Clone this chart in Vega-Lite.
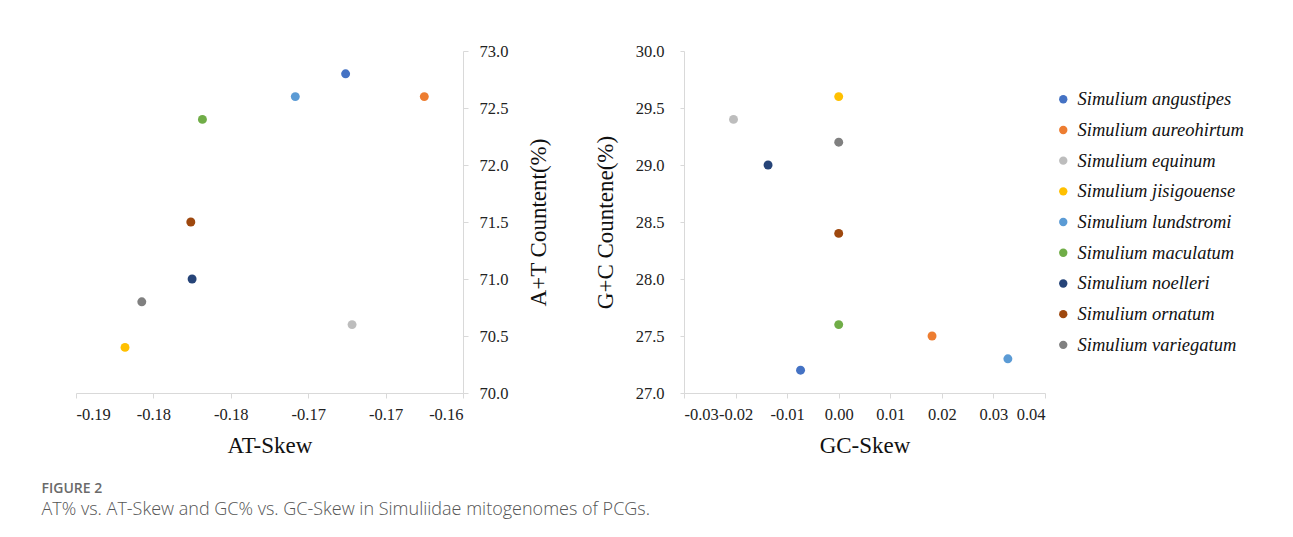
{
  "$schema": "https://vega.github.io/schema/vega-lite/v6.json",
  "background": "white",
  "padding": {"left": 41, "top": 43, "right": 10, "bottom": 10},
  "data": {"values": [
    {"species": "Simulium angustipes", "at_skew": -0.1691, "at": 72.8, "gc_skew": -0.0074, "gc": 27.2},
    {"species": "Simulium aureohirtum", "at_skew": -0.1630, "at": 72.6, "gc_skew": 0.0181, "gc": 27.5},
    {"species": "Simulium equinum", "at_skew": -0.1686, "at": 70.6, "gc_skew": -0.0204, "gc": 29.4},
    {"species": "Simulium jisigouense", "at_skew": -0.1862, "at": 70.4, "gc_skew": 0.0000, "gc": 29.6},
    {"species": "Simulium lundstromi", "at_skew": -0.1730, "at": 72.6, "gc_skew": 0.0328, "gc": 27.3},
    {"species": "Simulium maculatum", "at_skew": -0.1802, "at": 72.4, "gc_skew": 0.0000, "gc": 27.6},
    {"species": "Simulium noelleri", "at_skew": -0.1810, "at": 71.0, "gc_skew": -0.0137, "gc": 29.0},
    {"species": "Simulium ornatum", "at_skew": -0.1811, "at": 71.5, "gc_skew": 0.0000, "gc": 28.4},
    {"species": "Simulium variegatum", "at_skew": -0.1849, "at": 70.8, "gc_skew": 0.0000, "gc": 29.2}
  ]},
  "title": {
    "text": "FIGURE 2",
    "subtitle": "AT% vs. AT-Skew and GC% vs. GC-Skew in Simuliidae mitogenomes of PCGs.",
    "orient": "bottom",
    "anchor": "start",
    "frame": "bounds",
    "dx": -34,
    "offset": 24,
    "font": "Open Sans",
    "fontSize": 14,
    "fontWeight": 600,
    "color": "#6a6a6a",
    "subtitleFont": "Open Sans",
    "subtitleFontSize": 18,
    "subtitleFontWeight": 300,
    "subtitleColor": "#555555",
    "subtitlePadding": 5
  },
  "spacing": 43,
  "resolve": {"legend": {"color": "independent"}},
  "config": {
    "view": {"stroke": null},
    "axis": {
      "domainColor": "#D9D9D9",
      "tickColor": "#D9D9D9",
      "grid": false,
      "labelFont": "Liberation Serif",
      "labelFontSize": 16.5,
      "labelColor": "#222222",
      "titleFont": "Liberation Serif",
      "titleFontSize": 23,
      "titleFontWeight": "normal",
      "titleColor": "#111111"
    }
  },
  "hconcat": [
    {
      "width": 387,
      "height": 342,
      "mark": {"type": "circle", "size": 80, "opacity": 1},
      "encoding": {
        "x": {"field": "at_skew", "type": "quantitative", "title": "AT-Skew",
          "scale": {"domain": [-0.19, -0.16], "nice": false, "zero": false},
          "axis": {"values": [-0.19, -0.184, -0.178, -0.172, -0.166, -0.16], "labelExpr": "replace(format(datum.value, '.2f'), '\u2212', '-')", "tickSize": 5, "labelPadding": 8, "titlePadding": 12}},
        "y": {"field": "at", "type": "quantitative", "title": "A+T Countent(%)",
          "scale": {"domain": [70, 73], "nice": false, "zero": false},
          "axis": {"orient": "right", "values": [70, 70.5, 71, 71.5, 72, 72.5, 73], "format": ".1f", "tickSize": 5, "labelPadding": 11, "titlePadding": 20, "titleAngle": 270, "titleBaseline": "top"}},
        "color": {"field": "species", "type": "nominal", "legend": null,
          "scale": {"domain": ["Simulium angustipes", "Simulium aureohirtum", "Simulium equinum", "Simulium jisigouense", "Simulium lundstromi", "Simulium maculatum", "Simulium noelleri", "Simulium ornatum", "Simulium variegatum"],
                    "range": ["#4472C4", "#ED7D31", "#BDBDBD", "#FFC000", "#5B9BD5", "#70AD47", "#264478", "#9E480E", "#808080"]}}
      }
    },
    {
      "width": 361,
      "height": 342,
      "mark": {"type": "circle", "size": 80, "opacity": 1},
      "encoding": {
        "x": {"field": "gc_skew", "type": "quantitative", "title": "GC-Skew",
          "scale": {"domain": [-0.03, 0.04], "nice": false, "zero": false},
          "axis": {"values": [-0.03, -0.02, -0.01, 0, 0.01, 0.02, 0.03, 0.04], "labelExpr": "replace(format(datum.value, '.2f'), '\u2212', '-')", "tickSize": 5, "labelPadding": 8, "titlePadding": 12}},
        "y": {"field": "gc", "type": "quantitative", "title": "G+C Countene(%)",
          "scale": {"domain": [27, 30], "nice": false, "zero": false},
          "axis": {"values": [27, 27.5, 28, 28.5, 29, 29.5, 30], "format": ".1f", "tickSize": 4, "labelPadding": 16, "titlePadding": 18}},
        "color": {"field": "species", "type": "nominal",
          "scale": {"domain": ["Simulium angustipes", "Simulium aureohirtum", "Simulium equinum", "Simulium jisigouense", "Simulium lundstromi", "Simulium maculatum", "Simulium noelleri", "Simulium ornatum", "Simulium variegatum"],
                    "range": ["#4472C4", "#ED7D31", "#BDBDBD", "#FFC000", "#5B9BD5", "#70AD47", "#264478", "#9E480E", "#808080"]},
          "legend": {"title": null, "orient": "none", "legendX": 370, "legendY": 39, "padding": 0,
            "symbolType": "circle", "symbolSize": 70, "symbolStrokeWidth": 0,
            "labelFont": "Liberation Serif", "labelFontStyle": "italic", "labelFontSize": 18.5, "labelColor": "#111111",
            "labelOffset": 5, "rowPadding": 11.7, "labelLimit": 300}}
      }
    }
  ]
}
